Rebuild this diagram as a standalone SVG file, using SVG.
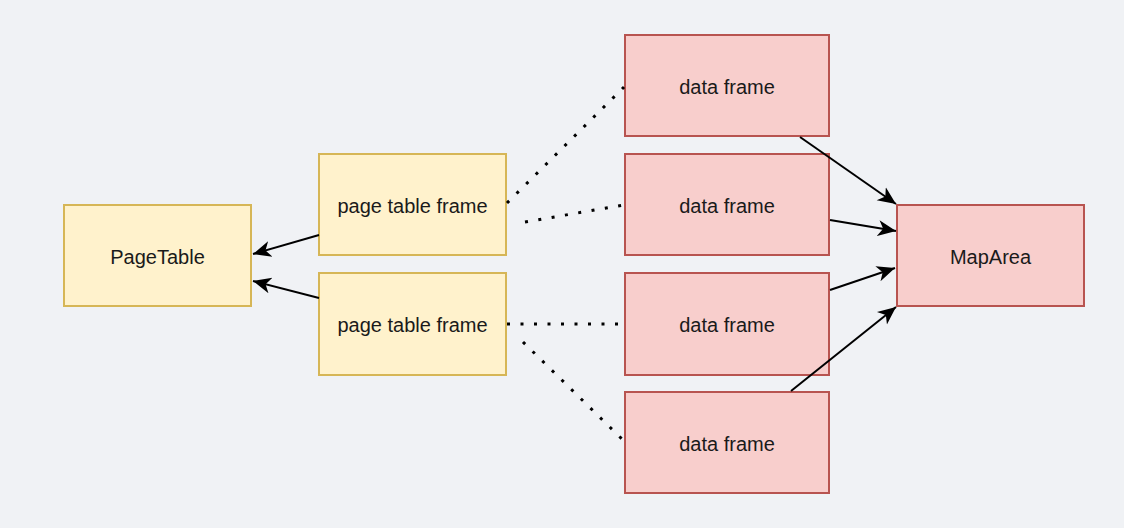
<svg xmlns="http://www.w3.org/2000/svg" width="1124" height="528" viewBox="0 0 1124 528">
<style>
.y{fill:#fff2cc;stroke:#d6b656;stroke-width:2}
.r{fill:#f8cecc;stroke:#b85450;stroke-width:2}
.t{font-family:"Liberation Sans",Arial,sans-serif;font-size:20px;fill:#1a1a1a;text-anchor:middle;dominant-baseline:central}
.a{stroke:#000;stroke-width:2;fill:none;marker-end:url(#ah)}
.d{stroke:#000;stroke-width:3;fill:none;stroke-dasharray:3 10.5}
</style>
<defs>
<marker id="ah" viewBox="0 0 20 20" refX="18" refY="10" markerWidth="20" markerHeight="20" markerUnits="userSpaceOnUse" orient="auto">
<path d="M0,2 L18,10 L0,18 L5,10 Z" fill="#000"/>
</marker>
</defs>
<rect width="1124" height="528" fill="#f0f2f5"/>
<g id="pagetable"><rect class="y" x="64" y="205" width="187" height="101"/><text class="t" x="157.5" y="257">PageTable</text></g>
<g id="ptf1"><rect class="y" x="319" y="154" width="187" height="101"/><text class="t" x="412.5" y="206">page table frame</text></g>
<g id="ptf2"><rect class="y" x="319" y="273" width="187" height="102"/><text class="t" x="412.5" y="325">page table frame</text></g>
<g id="df1"><rect class="r" x="625" y="35" width="204" height="101"/><text class="t" x="727" y="87">data frame</text></g>
<g id="df2"><rect class="r" x="625" y="154" width="204" height="101"/><text class="t" x="727" y="206">data frame</text></g>
<g id="df3"><rect class="r" x="625" y="273" width="204" height="102"/><text class="t" x="727" y="325">data frame</text></g>
<g id="df4"><rect class="r" x="625" y="392" width="204" height="101"/><text class="t" x="727" y="444">data frame</text></g>
<g id="maparea"><rect class="r" x="897" y="205" width="187" height="101"/><text class="t" x="990.5" y="257">MapArea</text></g>
<g id="connectors">
<path class="a" d="M319,235 L253,254"/>
<path class="a" d="M319,298 L253,281"/>
<path class="a" d="M800,137 L896,204"/>
<path class="a" d="M830,220 L896,231"/>
<path class="a" d="M830,290 L895,268"/>
<path class="a" d="M791,391 L896,307"/>
<path class="d" d="M507,203 L624,87"/>
<path class="d" d="M525,222 L624,205"/>
<path class="d" d="M507,324 L624,324"/>
<path class="d" d="M523,342 L624,441"/>
</g>
</svg>
